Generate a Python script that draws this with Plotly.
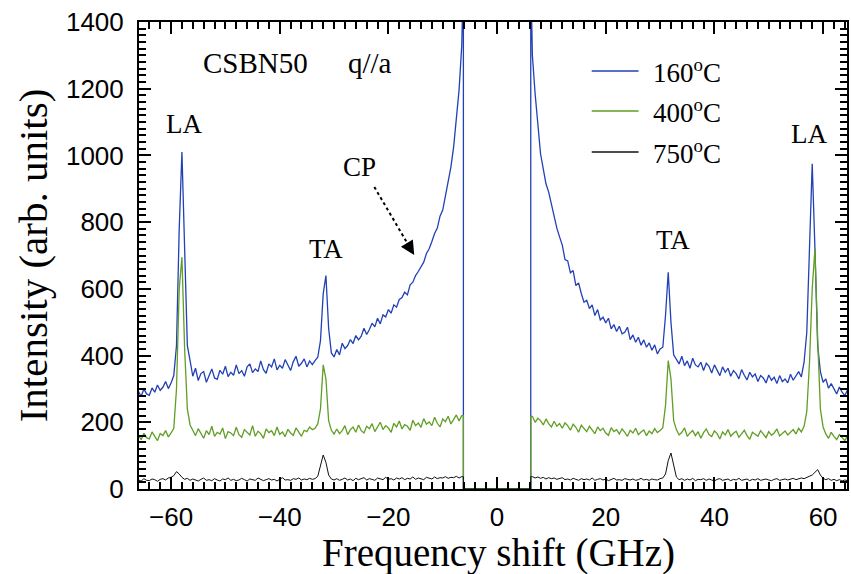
import numpy as np
import plotly.graph_objects as go

# ---------------- data ----------------
x_left = np.round(np.arange(-66.0, -6.49, 0.5), 2)   # -66.0 ... -6.5
x_right = np.round(np.arange(6.5, 65.01, 0.5), 2)    # 6.5 ... 65.0
gap_edge = 6.2

blue_left = [292, 278, 300, 285, 281, 303, 290, 312, 296, 305, 322, 301, 318,
             340, 430, 780, 1010, 720, 430, 385,
             338, 362, 325, 346, 352, 320, 341, 360, 333, 329, 356, 344, 368, 337, 350, 341, 372, 346, 355, 338,
             366, 375, 349, 360, 352, 384, 358, 347, 375, 366, 390, 357, 371, 362, 388, 370, 355, 382, 398, 368,
             377, 390, 366, 384, 373,
             385, 395, 445, 585, 640, 482, 408, 396,
             418, 402, 437, 421, 430, 448, 436, 460, 447, 458, 482, 463, 478, 497, 486, 512, 495, 522, 516, 538,
             527, 552, 545, 568, 574, 590, 582, 612, 620, 640, 652, 668, 680, 706, 720, 742, 766, 782, 818, 836,
             878, 912, 965, 1025, 1115, 1195, 1330]
blue_right = [1300, 1185, 1105, 1005, 960, 915, 890, 852,
              820, 782, 756, 731, 688, 684, 648, 655, 610, 618, 586, 560, 566, 541, 552, 520, 538, 507, 515, 498,
              512, 480, 493, 472, 488, 465, 470, 485, 448, 462, 440, 455, 431, 447, 425, 438, 416, 432, 405, 420,
              425,
              520, 650, 500, 402,
              388, 375, 398, 370, 384, 362, 392, 372, 366, 380, 355, 377, 368, 348, 372, 357, 340, 366, 350, 362,
              338, 355, 346, 330, 358, 341, 327, 350, 336, 345, 322, 340, 333, 318, 342, 326, 335, 316, 340, 322,
              330, 318, 344, 326, 338, 352, 336,
              380, 470, 760, 975, 720, 430, 352, 320, 330, 302, 316, 298, 285, 306, 290, 280, 297, 284]

green_left = [160, 148, 167, 154, 150, 171, 158, 145, 166, 160, 175, 156, 168,
              182, 300, 600, 695, 420, 240, 192,
              176, 160, 181, 166, 152, 175, 163, 188, 158, 170, 165, 183, 151, 172, 168, 160, 185, 163, 155, 178,
              170, 162, 190, 158, 173, 166, 152, 180, 169, 175, 160, 186, 164, 171, 157, 179, 168, 161, 183, 170,
              158, 176, 172, 186, 178,
              182, 195, 240, 372, 330, 205, 176, 165,
              180, 166, 175, 190, 163, 178, 186, 170, 192, 175, 168, 188, 181, 196, 172, 184, 200, 178, 190, 183,
              170, 197, 186, 204, 180, 193, 188, 176, 206, 190, 198, 185, 211, 194, 201, 190, 215, 197, 186, 210,
              202, 218, 195, 208, 222, 204, 220]
green_right = [218, 200, 212, 205, 192, 210, 196, 186,
               203, 188, 196, 182, 198, 190, 176, 194, 185, 170, 191, 180, 172, 188, 178, 166, 186, 175, 182, 168,
               161, 184, 172, 178, 165, 180, 170, 158, 176, 168, 182, 163, 171, 177, 160, 174, 166, 181, 169, 175,
               184,
               250, 385, 330, 205,
               178, 162, 170, 183, 158, 168, 175, 160, 172, 152, 169, 180, 163, 157, 174, 166, 150, 171, 162, 178,
               158, 167, 173, 155, 165, 176, 160, 149, 170, 163, 158, 175, 166, 154, 172, 161, 168, 180, 159, 166,
               174, 162, 170, 178, 165, 182, 171,
               188, 232, 380, 600, 720, 450, 240, 186, 165, 152, 170, 158, 148, 163, 155, 145, 160, 150]

black_left = [27, 24, 31, 26, 25, 30, 28, 23, 29, 31, 27, 33, 35,
              40, 52, 45, 35, 29, 32, 26,
              30, 27, 24, 29, 33, 26, 28, 25, 31, 27, 24, 30, 28, 33, 26, 29, 25, 27, 32, 28,
              24, 30, 27, 26, 33, 29, 25, 28, 31, 27, 29, 24, 30, 34, 27, 28, 26, 31, 29, 33,
              27, 30, 28, 32, 29,
              31, 38, 70, 102, 80, 42, 30, 27,
              31, 26, 29, 33, 27, 30, 25, 32, 28, 30, 34, 27, 31, 29, 26, 33, 30, 28, 35, 29,
              31, 27, 33, 30, 34, 28, 32, 30, 36, 29, 33, 31, 28, 35, 32, 30, 36, 31, 34, 33,
              37, 32, 35, 34, 38, 33, 37]
black_right = [37, 33, 36, 32, 35, 30, 34, 31,
               33, 29, 31, 34, 28, 30, 27, 32, 29, 26, 31, 28, 30, 27, 33, 26, 29, 31, 27, 30,
               25, 29, 32, 27, 28, 26, 31, 29, 27, 30, 26, 28, 32, 27, 29, 26, 30, 28, 27, 31,
               33,
               45, 85, 108, 70,
               36, 28, 31, 26, 30, 27, 32, 25, 29, 28, 31, 26, 30, 27, 24, 29, 31, 26, 28, 30,
               25, 29, 27, 32, 26, 28, 30, 25, 29, 27, 31, 26, 28, 30, 27, 25, 29, 31, 26, 28,
               30, 27, 29, 32, 28, 30, 33,
               31, 34, 37, 42, 50, 58, 42, 32, 28, 31, 26, 29, 25, 28, 24, 27, 25, 26]

series_names = ["160<sup>o</sup>C", "400<sup>o</sup>C", "750<sup>o</sup>C"]
series_colors = ["#2241b5", "#609e24", "#111111"]
series_widths = [1.3, 1.3, 1.0]
laser_clip = 1550   # value the central (blocked) elastic line reaches, off scale

for arr, n in [(blue_left, len(x_left)), (green_left, len(x_left)), (black_left, len(x_left)),
               (blue_right, len(x_right)), (green_right, len(x_right)), (black_right, len(x_right))]:
    assert len(arr) == n, (len(arr), n)


def full_series(left, right, edge_top):
    xs = list(x_left) + [-gap_edge, -gap_edge, gap_edge, gap_edge] + list(x_right)
    ys = list(left) + [edge_top[0], 0, 0, edge_top[1]] + list(right)
    return xs, ys


edges = [(laser_clip, laser_clip), (green_left[-1], green_right[0]), (black_left[-1], black_right[0])]
series = [(blue_left, blue_right), (green_left, green_right), (black_left, black_right)]

fig = go.Figure()
for (l, r), e, c, w, nm in zip(series, edges, series_colors, series_widths, series_names):
    xs, ys = full_series(l, r, e)
    fig.add_trace(go.Scatter(x=xs, y=ys, mode="lines", name=nm,
                             line=dict(color=c, width=w), showlegend=False, cliponaxis=True))

# ---------------- layout ----------------
W, H = 851, 574
L, R, T, B = 139, 2, 22, 85
X0, X1 = -65.9, 64.4
Y0, Y1 = 0, 1400


def px_to_data(px, py):
    pw, ph = W - L - R, H - T - B
    return X0 + (px - L) / pw * (X1 - X0), Y1 - (py - T) / ph * (Y1 - Y0)


tickfont = dict(family="Liberation Sans, Arial, sans-serif", size=26, color="black")
serif = "Liberation Serif, Times New Roman, serif"

axis_common = dict(showline=True, linewidth=2, linecolor="black", mirror="allticks",
                   ticks="inside", ticklen=12, tickwidth=2, tickcolor="black",
                   showgrid=False, zeroline=False, tickfont=tickfont)

fig.update_xaxes(range=[X0, X1], dtick=20, tick0=0, ticklabelstandoff=4,
                 minor=dict(ticks="inside", ticklen=7, tickwidth=1.5, dtick=2, tick0=0, showgrid=False),
                 **axis_common)
fig.update_yaxes(range=[Y0, Y1], dtick=200, tick0=0, ticklabelstandoff=8,
                 minor=dict(ticks="inside", ticklen=7, tickwidth=1.5, dtick=20, tick0=0, showgrid=False),
                 **axis_common)

annos = []
# axis titles
annos.append(dict(text="Frequency shift (GHz)", xref="paper", yref="paper",
                  x=(500 - L) / (W - L - R), y=-(553 - (H - B)) / (H - T - B),
                  xanchor="center", yanchor="middle", showarrow=False,
                  font=dict(family=serif, size=39, color="black")))
annos.append(dict(text="Intensity (arb. units)", xref="paper", yref="paper",
                  x=(33 - L) / (W - L - R), y=((H - B) - 255) / (H - T - B),
                  xanchor="center", yanchor="middle", textangle=-90, showarrow=False,
                  font=dict(family=serif, size=41, color="black")))

# in-plot labels (pixel positions converted to data coordinates)
labels = [("CSBN50", 256, 63, 29), ("q//a", 371, 63, 29), ("LA", 184, 124, 27), ("TA", 327, 249, 27),
          ("CP", 360, 167, 27), ("TA", 675, 240, 27), ("LA", 811, 134, 27)]
for txt, px, py, fs in labels:
    xd, yd = px_to_data(px, py)
    annos.append(dict(text=txt, x=xd, y=yd, xref="x", yref="y", showarrow=False,
                      xanchor="center", yanchor="middle", font=dict(family=serif, size=fs, color="black")))

# CP arrow head
hx, hy = px_to_data(415, 255)
annos.append(dict(text="", x=hx, y=hy, xref="x", yref="y", ax=-8, ay=-13, showarrow=True,
                  arrowhead=2, arrowsize=1.4, arrowwidth=2, arrowcolor="black"))

# legend (manual)
shapes = []
legend_rows = [71, 111, 152]
for nm, c, py in zip(series_names, series_colors, legend_rows):
    xa, ya = px_to_data(593, py)
    xb, _ = px_to_data(640, py)
    shapes.append(dict(type="line", xref="x", yref="y", x0=xa, x1=xb, y0=ya, y1=ya,
                       line=dict(color=c, width=1.5)))
    xt, yt = px_to_data(652, py)
    annos.append(dict(text=nm, x=xt, y=yt, xref="x", yref="y", showarrow=False,
                      xanchor="left", yanchor="middle", font=dict(family=serif, size=27, color="black")))

# dotted shaft of CP arrow
sx0, sy0 = px_to_data(375, 187)
sx1, sy1 = px_to_data(408, 243)
shapes.append(dict(type="line", xref="x", yref="y", x0=sx0, y0=sy0, x1=sx1, y1=sy1,
                   line=dict(color="black", width=2, dash="dot")))

fig.update_layout(width=W, height=H, margin=dict(l=L, r=R, t=T, b=B),
                  paper_bgcolor="white", plot_bgcolor="white",
                  annotations=annos, shapes=shapes, showlegend=False)

fig.write_html("out.html")
